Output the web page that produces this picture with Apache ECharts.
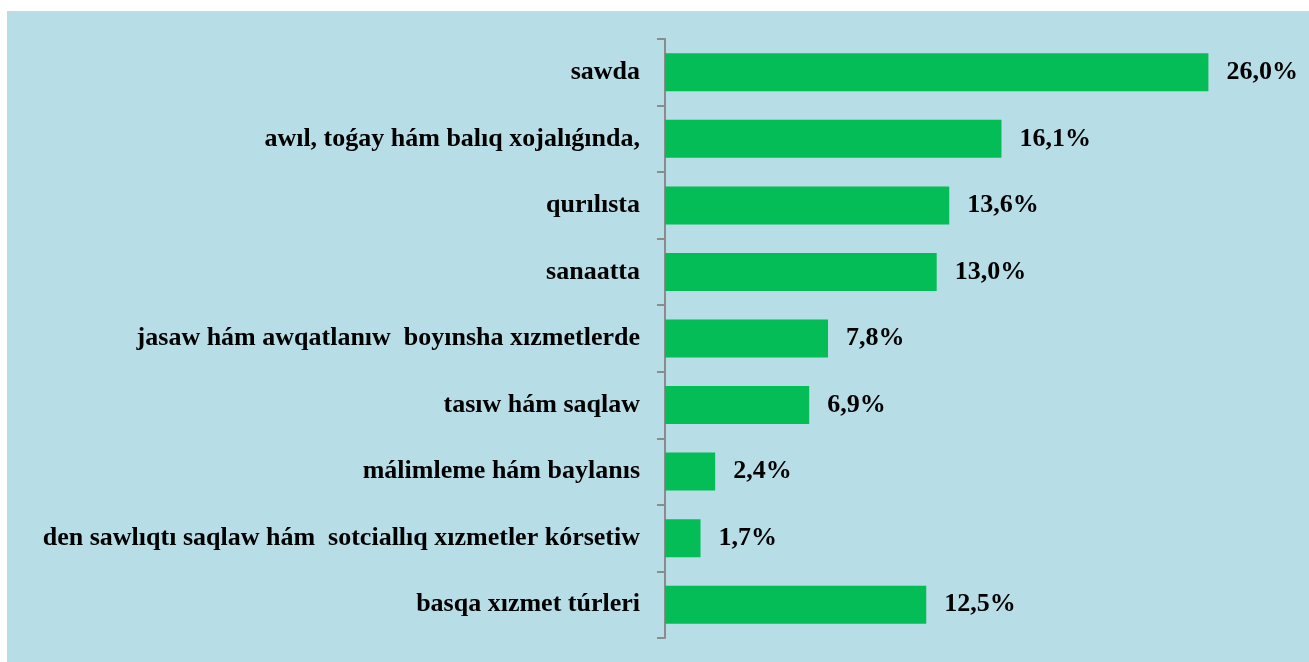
<!DOCTYPE html>
<html>
<head>
<meta charset="utf-8">
<script src="https://cdn.jsdelivr.net/npm/echarts@6/dist/echarts.min.js"></script>
<style>
	html, body { margin: 0; padding: 0; background: #ffffff; }
	#chart { position: absolute; left: 7px; top: 11px; width: 1302px; height: 651px; background: #b7dde7; }
</style>
</head>
<body>
<div id="chart"></div>
<script>
	// categories from top to bottom
	var categories = [
		'sawda',
		'awıl, toǵay hám balıq xojalıǵında,',
		'qurılısta',
		'sanaatta',
		'jasaw hám awqatlanıw  boyınsha xızmetlerde',
		'tasıw hám saqlaw',
		'málimleme hám baylanıs',
		'den sawlıqtı saqlaw hám  sotciallıq xızmetler kórsetiw',
		'basqa xızmet túrleri'
	];
	var values = [26.0, 16.1, 13.6, 13.0, 7.8, 6.9, 2.4, 1.7, 12.5];

	var chart = echarts.init(document.getElementById('chart'));
	var font = '"Liberation Serif", "Times New Roman", serif';
	var option = {
		animation: false,
		grid: {
			left: 658,
			top: 28,
			width: 627,
			height: 599
		},
		xAxis: {
			type: 'value',
			min: 0,
			max: 30,
			show: false
		},
		yAxis: {
			type: 'category',
			inverse: true,
			data: categories,
			axisLine: { show: true, lineStyle: { color: '#8c8c8c', width: 2 } },
			axisTick: { show: true, inside: false, length: 8, lineStyle: { color: '#8c8c8c', width: 2 } },
			axisLabel: {
				margin: 25,
				color: '#000',
				fontFamily: font,
				fontWeight: 'bold',
				fontSize: 26
			}
		},
		series: [
			{
				type: 'bar',
				data: values,
				barWidth: 38,
				itemStyle: { color: '#05bd56' },
				label: {
					show: true,
					position: 'right',
					distance: 18,
					color: '#000',
					fontFamily: font,
					fontWeight: 'bold',
					fontSize: 26,
					formatter: function (p) {
						return p.value.toFixed(1).replace('.', ',') + '%';
					}
				}
			}
		]
	};
	chart.setOption(option);
</script>
</body>
</html>
